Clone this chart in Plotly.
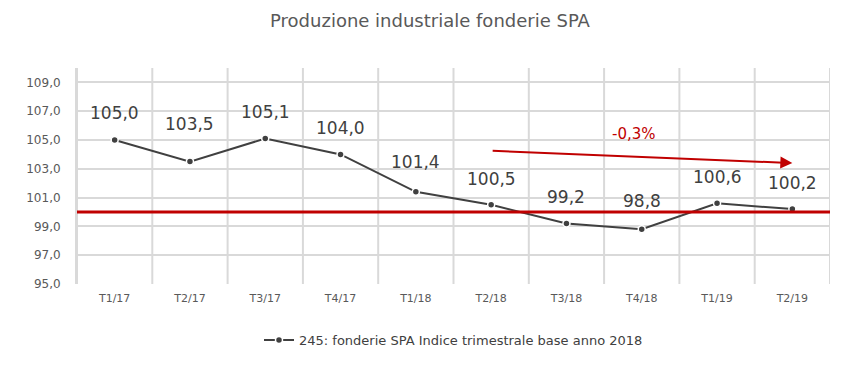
import plotly.graph_objects as go

categories = ["T1/17", "T2/17", "T3/17", "T4/17", "T1/18", "T2/18", "T3/18", "T4/18", "T1/19", "T2/19"]
values = [105.0, 103.5, 105.1, 104.0, 101.4, 100.5, 99.2, 98.8, 100.6, 100.2]
labels = ["105,0", "103,5", "105,1", "104,0", "101,4", "100,5", "99,2", "98,8", "100,6", "100,2"]
y_ticks = [95, 97, 99, 101, 103, 105, 107, 109]
y_tick_labels = ["95,0", "97,0", "99,0", "101,0", "103,0", "105,0", "107,0", "109,0"]
reference_level = 100
trend_start = ("T2/18", 104.25)
trend_end = ("T2/19", 103.4)
trend_label = "-0,3%"
series_name = "245: fonderie SPA Indice trimestrale base anno 2018"

FONT = "'DejaVu Sans', sans-serif"
GRID = "#d9d9d9"

fig = go.Figure()
fig.add_trace(go.Scatter(
    x=categories, y=values, mode="lines+markers", name=series_name,
    line=dict(color="#404040", width=2),
    marker=dict(size=7, color="#404040", line=dict(color="white", width=1.5)),
    hoverinfo="skip",
))

label_shift = [27, 38, 27, 26, 30, 26, 27, 28, 26, 26]
for c, v, t, s in zip(categories, values, labels, label_shift):
    fig.add_annotation(x=c, y=v, text=t, showarrow=False, yshift=s,
                       font=dict(family=FONT, size=17, color="#404040"))

fig.add_shape(type="line", xref="paper", x0=0, x1=1, yref="y",
              y0=reference_level, y1=reference_level,
              line=dict(color="#c00000", width=3), layer="above")

fig.add_annotation(x=trend_end[0], y=trend_end[1], ax=trend_start[0], ay=trend_start[1],
                   xref="x", yref="y", axref="x", ayref="y", text="",
                   showarrow=True, arrowhead=2, arrowsize=1.2, arrowwidth=2,
                   arrowcolor="#c00000", standoff=0)
fig.add_annotation(x=7, y=105.45, xref="x", yref="y", text=trend_label, showarrow=False,
                   xshift=-8, font=dict(family=FONT, size=15, color="#c00000"))

fig.update_layout(
    width=860, height=378,
    paper_bgcolor="white", plot_bgcolor="white",
    margin=dict(l=77, r=30, t=68, b=94),
    title=dict(text="Produzione industriale fonderie SPA", x=0.5, xanchor="center",
               y=0.945, yanchor="middle",
               font=dict(family=FONT, size=18, color="#595959")),
    font=dict(family=FONT, color="#595959"),
    showlegend=True,
    legend=dict(orientation="h", x=0.5, xanchor="center", y=-0.19, yanchor="top",
                font=dict(family=FONT, size=13, color="#404040")),
    xaxis=dict(type="category", showgrid=False, showline=False, ticks="",
               ticklabelstandoff=6,
               tickfont=dict(family=FONT, size=11, color="#595959"),
               range=[-0.5, len(categories) - 0.5]),
    yaxis=dict(range=[95, 110], tickvals=y_ticks, ticktext=y_tick_labels,
               showgrid=True, gridcolor=GRID, gridwidth=2, zeroline=False,
               showline=True, linecolor=GRID, linewidth=2, ticklabelstandoff=12,
               tickfont=dict(family=FONT, size=12, color="#595959"), ticks=""),
)

for i in range(len(categories) + 1):
    fig.add_shape(type="line", xref="x", yref="paper", x0=i - 0.5, x1=i - 0.5, y0=0, y1=1,
                  line=dict(color=GRID, width=2), layer="below")

fig.write_html("out.html", config={"displayModeBar": False},
               post_script="document.body.style.margin='0';")
